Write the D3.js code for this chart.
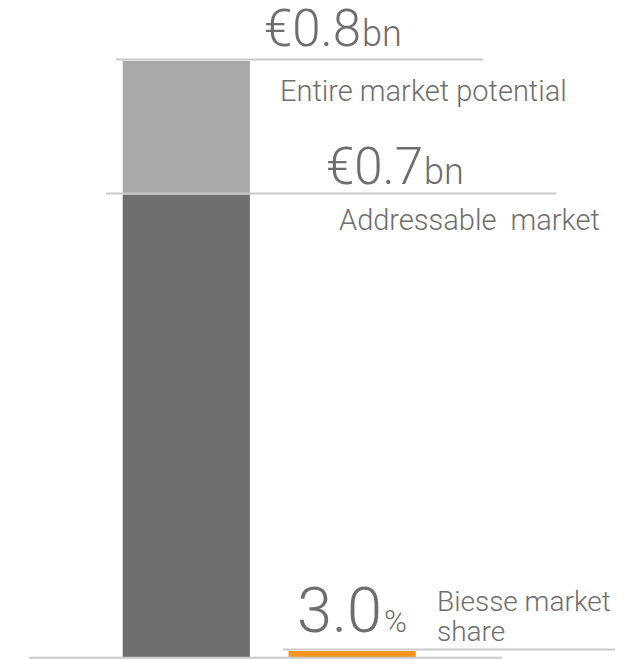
<!DOCTYPE html>
<html>
<head>
<meta charset="utf-8">
<script src="https://cdn.jsdelivr.net/npm/d3@7/dist/d3.min.js"></script>
<style>
  html, body { margin: 0; padding: 0; background: #ffffff; }
  svg { display: block; }
  text { font-family: Roboto, "Open Sans", sans-serif; font-weight: 300; fill: #6e6e6e; }
</style>
</head>
<body>
<svg id="chart" width="627" height="660"></svg>
<script>
// Market sizing (billions of euro) and Biesse's share of the addressable market
const segments = ["Entire market potential", "Addressable  market"];
const segmentTotals = [0.8, 0.7];          // cumulative heights, €bn
const segmentLabels = ["€0.8", "€0.7"];
const segmentUnits = ["bn", "bn"];
const shareValue = 0.03;                    // 3.0%
const shareLabel = "3.0";
const shareUnit = "%";
const shareText = ["Biesse market", "share"];
const columns = ["Market", "Biesse"];

const svg = d3.select("#chart");

// Broken value scale: the share slice, the addressable block and the potential cap
const shareBn = segmentTotals[1] * shareValue;
const y = d3.scaleLinear()
  .domain([0, shareBn, segmentTotals[1], segmentTotals[0]])
  .range([658, 651, 195, 61]);

const x = d3.scaleBand()
  .domain(columns)
  .range([122.7, 415.7])
  .paddingInner(0.233)
  .paddingOuter(0);

const colors = { potential: "#a9a8a8", addressable: "#6f6f6f", share: "#f7941d", rule: "#c9c9c9" };

// Stacked market column
svg.append("rect")
  .attr("x", x("Market")).attr("width", x.bandwidth())
  .attr("y", y(segmentTotals[0]))
  .attr("height", y(segmentTotals[1]) - y(segmentTotals[0]))
  .attr("fill", colors.potential);

svg.append("rect")
  .attr("x", x("Market")).attr("width", x.bandwidth())
  .attr("y", y(segmentTotals[1]))
  .attr("height", y(0) - y(segmentTotals[1]))
  .attr("fill", colors.addressable);

// Biesse share slice
svg.append("rect")
  .attr("x", x("Biesse")).attr("width", x.bandwidth())
  .attr("y", y(shareBn))
  .attr("height", y(0) - y(shareBn))
  .attr("fill", colors.share);

// Guide rules
const rule = (x1, x2, yy) => svg.append("line")
  .attr("x1", x1).attr("x2", x2).attr("y1", yy).attr("y2", yy)
  .attr("stroke", colors.rule).attr("stroke-width", 2);

rule(116, 483, y(segmentTotals[0]) - 1.5);
rule(106, 556, y(segmentTotals[1]) - 1.5);
rule(283, 615, y(shareBn) - 1.5);
rule(29, 502, y(0) - 0.3);

// Value labels with small units
function valueLabel(xx, yy, big, small, bigSize, smallSize, gap) {
  const t = svg.append("text").attr("x", xx).attr("y", yy);
  t.append("tspan").attr("font-size", bigSize).text(big);
  t.append("tspan").attr("font-size", smallSize).attr("dx", gap).text(small);
  return t;
}

valueLabel(264, 46, segmentLabels[0], segmentUnits[0], 51, 36, 1);
valueLabel(326, 184, segmentLabels[1], segmentUnits[1], 51, 36, 1);
valueLabel(297, 632, shareLabel, shareUnit, 63, 31, 2);

svg.append("text").attr("x", 280).attr("y", 101).attr("font-size", 29).text(segments[0]);
svg.append("text").attr("x", 339).attr("y", 230).attr("font-size", 29)
  .attr("xml:space", "preserve").text(segments[1]);

svg.append("text").attr("x", 437).attr("y", 611).attr("font-size", 28).text(shareText[0]);
svg.append("text").attr("x", 437).attr("y", 641).attr("font-size", 28).text(shareText[1]);
</script>
</body>
</html>
